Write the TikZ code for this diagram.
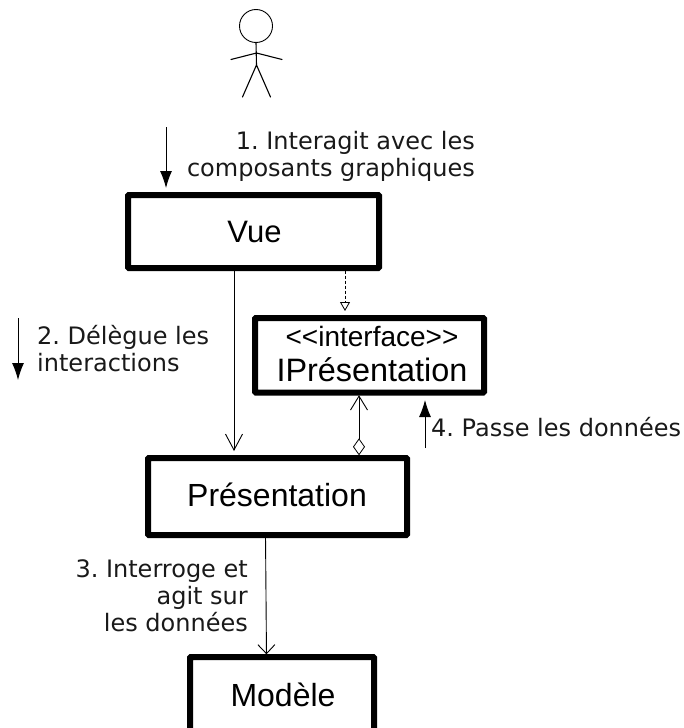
\documentclass[tikz,border=0pt]{standalone}
\usepackage{fontspec}
\setmainfont{Liberation Sans}
\newfontfamily\labelfont{DejaVu Sans}
\usetikzlibrary{arrows.meta}
\begin{document}
\begin{tikzpicture}[x=1pt,y=-1pt,
  box/.style={draw=black,line width=6pt,fill=white,rounded corners=0.8pt,inner sep=0pt,outer sep=0pt,anchor=north west,align=center},
  lab/.style={font=\labelfont\fontsize{24}{27}\selectfont\frenchspacing,inner sep=0pt,text=black!90},
  open/.style={-{Straight Barb[length=16pt,width=17pt,line width=0.9pt]},line width=0.9pt},
  flow/.style={-{Latex[length=17pt,width=12pt]},line width=0.9pt},
  body/.style={line width=1.1pt,line cap=round}]
\useasboundingbox (0,0) rectangle (683,728);
\clip (0,0) rectangle (683,728);
% actor
\node[draw=black,line width=0.9pt,circle,minimum size=33pt,inner sep=0pt,outer sep=0pt] (head) at (256,26) {};
\coordinate (shoulder) at (256.5,53);
\coordinate (hip) at (256.5,65);
\coordinate (handL) at (231,59.5);
\coordinate (handR) at (282,59.5);
\coordinate (footL) at (242.5,97);
\coordinate (footR) at (270.5,97);
\draw[body] (head.south) -- (hip);
\draw[body] (handL) -- (shoulder) -- (handR);
\draw[body] (footL) -- (hip) -- (footR);
% boxes
\node[box,minimum width=251pt,minimum height=73pt] (vue) at (128,195) {};
\node[font=\fontsize{31}{34}\selectfont,inner sep=0pt] (vuel) at (254.5,232) {Vue};
\node[box,minimum width=229pt,minimum height=74.5pt] (ipres) at (255,318) {};
\node[font=\fontsize{28}{32}\selectfont,inner sep=0pt] (ipres1) at (372,336) {<{}<interface>{}>};
\node[font=\fontsize{32.4}{36}\selectfont,inner sep=0pt] (ipres2) at (372,370) {IPrésentation};
\node[box,minimum width=259pt,minimum height=77pt] (pres) at (148,458) {};
\node[font=\fontsize{32}{36}\selectfont,inner sep=0pt] (presl) at (277,495) {Présentation};
\node[box,minimum width=184pt,minimum height=90pt] (mod) at (190,657) {};
\node[font=\fontsize{32}{36}\selectfont,inner sep=0pt] (modl) at (283,695) {Modèle};
% anchor coordinates
\coordinate (a1) at (vue.south -| 234,0);
\coordinate (a2) at (pres.north -| 234,0);
\coordinate (b1) at (vue.south -| 345,0);
\coordinate (b2) at (ipres.north -| 345,0);
\coordinate (c1) at (pres.north -| 359,0);
\coordinate (c2) at (ipres.south -| 359,0);
\coordinate (d1) at (pres.south -| 265.5,0);
\coordinate (d2) at (mod.north -| 266.5,0);
% connectors
\draw[open,shorten <=2.5pt,shorten >=7pt] (a1) -- (a2);
\draw[line width=0.8pt,dashed,dash pattern=on 3pt off 2pt,-{Triangle[open,length=9pt,width=10pt,line width=0.8pt,fill=white]},shorten <=2.5pt,shorten >=7pt] (b1) -- (b2);
\draw[line width=0.9pt,{Diamond[open,length=17pt,width=12pt,line width=0.8pt]}-{Straight Barb[length=14pt,width=17pt,line width=0.9pt]},shorten <=2.7pt,shorten >=2.7pt] (c1) -- (c2);
\draw[line width=0.9pt,-{Straight Barb[length=9pt,width=17pt,line width=0.9pt]},shorten <=2.7pt,shorten >=2.7pt] (d1) -- (d2);
% flow arrows
\coordinate (f1s) at (166,127);
\coordinate (f1e) at (166,188);
\coordinate (f2s) at (18,318);
\coordinate (f2e) at (18,380);
\coordinate (f4s) at (425,448);
\coordinate (f4e) at (425,400);
\draw[flow] (f1s) -- (f1e);
\draw[flow] (f2s) -- (f2e);
\draw[flow] (f4s) -- (f4e);
% labels
\node[lab,align=right,anchor=north east] (l1) at (475,131.5) {1. Interagit avec les\\composants graphiques};
\node[lab,align=left,anchor=north west] (l2) at (37,325) {2. Délègue les\\interactions};
\node[lab,anchor=west] (l4) at (431,427) {4. Passe les données};
\node[lab,align=right,anchor=north east] (l3) at (248,559) {3. Interroge et\\agit sur~\\les données};
\end{tikzpicture}
\end{document}
